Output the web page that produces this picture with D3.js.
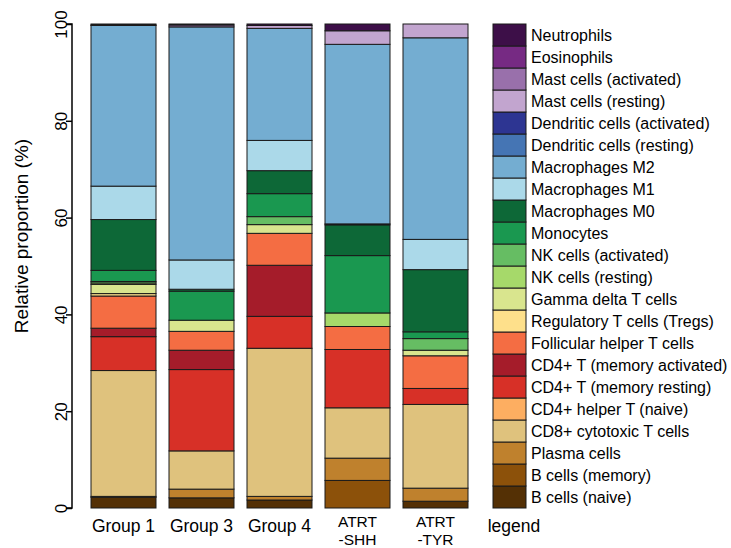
<!DOCTYPE html>
<html><head><meta charset="utf-8">
<script src="https://cdn.jsdelivr.net/npm/d3@7"></script>
<style>body{margin:0;background:#fff}svg{display:block}text{font-family:"Liberation Sans",Arial,sans-serif;fill:#000}</style>
</head><body><div id="chart"></div>
<script>
const groups = ["Group 1","Group 3","Group 4","ATRT\n-SHH","ATRT\n-TYR"];
const categories = ["B cells (naive)","B cells (memory)","Plasma cells","CD8+ cytotoxic T cells","CD4+ helper T (naive)","CD4+ T (memory resting)","CD4+ T (memory activated)","Follicular helper T cells","Regulatory T cells (Tregs)","Gamma delta T cells","NK cells (resting)","NK cells (activated)","Monocytes","Macrophages M0","Macrophages M1","Macrophages M2","Dendritic cells (resting)","Dendritic cells (activated)","Mast cells (resting)","Mast cells (activated)","Eosinophils","Neutrophils"];
const colors = ["#543005","#8C510A","#BF812D","#DFC27D","#FDAE61","#D73027","#A51C2A","#F46D43","#FEE08B","#D9E58E","#A6D96A","#66BD63","#1A9850","#0D6837","#ABD9E9","#74ADD1","#4575B4","#2D3592","#C2A5CF","#9970AB","#762A83","#3D0F48"];
const group1 = [2.2,0,0.2,26.0,0,7.0,1.75,6.65,0.5,1.9,0.3,0.3,2.3,10.5,6.9,33.2,0,0,0.1,0,0,0.2];
const group3 = [2.1,0,1.8,7.9,0,16.8,4.0,3.9,0,2.3,0,0,6.0,0.4,6.05,48.15,0,0,0,0.4,0,0.2];
const group4 = [1.65,0,0.75,30.6,0,6.6,10.55,6.6,0,1.8,0,1.65,4.75,4.75,6.25,23.15,0,0,0.6,0,0,0.3];
const atrtSHH = [0,5.7,4.6,10.4,0,12.05,0,4.75,0,0,2.8,0,11.85,6.35,0.2,37.1,0,0,2.8,0,0,1.4];
const atrtTYR = [1.4,0,2.7,17.3,0,3.3,0,6.75,0,1.15,0,2.4,1.4,12.85,6.25,41.65,0,0,2.85,0,0,0];
const yTicks = [0,20,40,60,80,100];
const legendLabel = "legend";
const yTitle = "Relative proportion (%)";

const seriesByGroup = [group1, group3, group4, atrtSHH, atrtTYR];
const W = 731, H = 548;
const svg = d3.select("#chart").append("svg").attr("width", W).attr("height", H);

const y = d3.scaleLinear().domain([0,100]).range([508, 24]);
const x = d3.scaleBand().domain(groups).range([91, 91 + 5*78 - 13]).paddingInner(13/78).paddingOuter(0);
const color = d3.scaleOrdinal().domain(categories).range(colors);

// stacked bars
const table = groups.map((g,i) => { const o = {group:g}; categories.forEach((c,j)=>o[c]=seriesByGroup[i][j]); return o; });
const stack = d3.stack().keys(categories)(table);
const segs = [];
stack.forEach(layer => layer.forEach(d => { if (d[1]-d[0] > 0) segs.push({key: layer.key, g: d.data.group, y0: d[0], y1: d[1]}); }));
svg.append("g").selectAll("rect").data(segs).join("rect")
  .attr("x", d => x(d.g)).attr("width", x.bandwidth())
  .attr("y", d => y(d.y1)).attr("height", d => y(d.y0) - y(d.y1))
  .attr("fill", d => color(d.key)).attr("stroke", "#1a1a1a").attr("stroke-width", 1);

// legend column
const ly = d3.scaleBand().domain(categories.slice().reverse()).range([24, 508]);
const lg = svg.append("g");
lg.selectAll("rect").data(categories).join("rect")
  .attr("x", 493).attr("width", 33)
  .attr("y", d => ly(d)).attr("height", ly.bandwidth())
  .attr("fill", d => color(d)).attr("stroke", "#1a1a1a").attr("stroke-width", 1);
lg.selectAll("text").data(categories).join("text")
  .attr("x", 531).attr("y", d => ly(d) + ly.bandwidth()/2)
  .attr("dy", "0.35em").attr("font-size", 16).text(d => d);

// y axis
const yAxis = d3.axisLeft(y).tickValues(yTicks).tickSize(6).tickFormat(d3.format("d"));
const ga = svg.append("g").attr("transform", "translate(72,0)").call(yAxis);
ga.select(".domain").attr("stroke", "#000").attr("stroke-width", 1.5).attr("d", "M-6,"+y(0)+"H0V"+y(100)+"H-6");
ga.selectAll(".tick line").attr("stroke", "#000").attr("stroke-width", 1.5);
ga.selectAll(".tick text").attr("font-size", 17).attr("font-family", "Liberation Sans, Arial, sans-serif")
  .attr("x", null).attr("dy", null).attr("text-anchor", "middle")
  .attr("transform", "translate(-5,0) rotate(-90)").attr("y", 0);

svg.append("text").attr("transform", "translate(28,236) rotate(-90)")
  .attr("text-anchor", "middle").attr("font-size", 19).text(yTitle);

// x labels
const xl = svg.append("g");
groups.forEach(g => {
  const lines = g.split("\n");
  const fs = lines.length > 1 ? 15.5 : 17.5;
  lines.forEach((s,i) => xl.append("text")
    .attr("x", x(g) + x.bandwidth()/2).attr("y", i ? 544.5 : (lines.length > 1 ? 527 : 532))
    .attr("text-anchor", "middle").attr("font-size", fs).text(s));
});
xl.append("text").attr("x", 514).attr("y", 532).attr("text-anchor", "middle").attr("font-size", 17.5).text(legendLabel);
</script></body></html>
